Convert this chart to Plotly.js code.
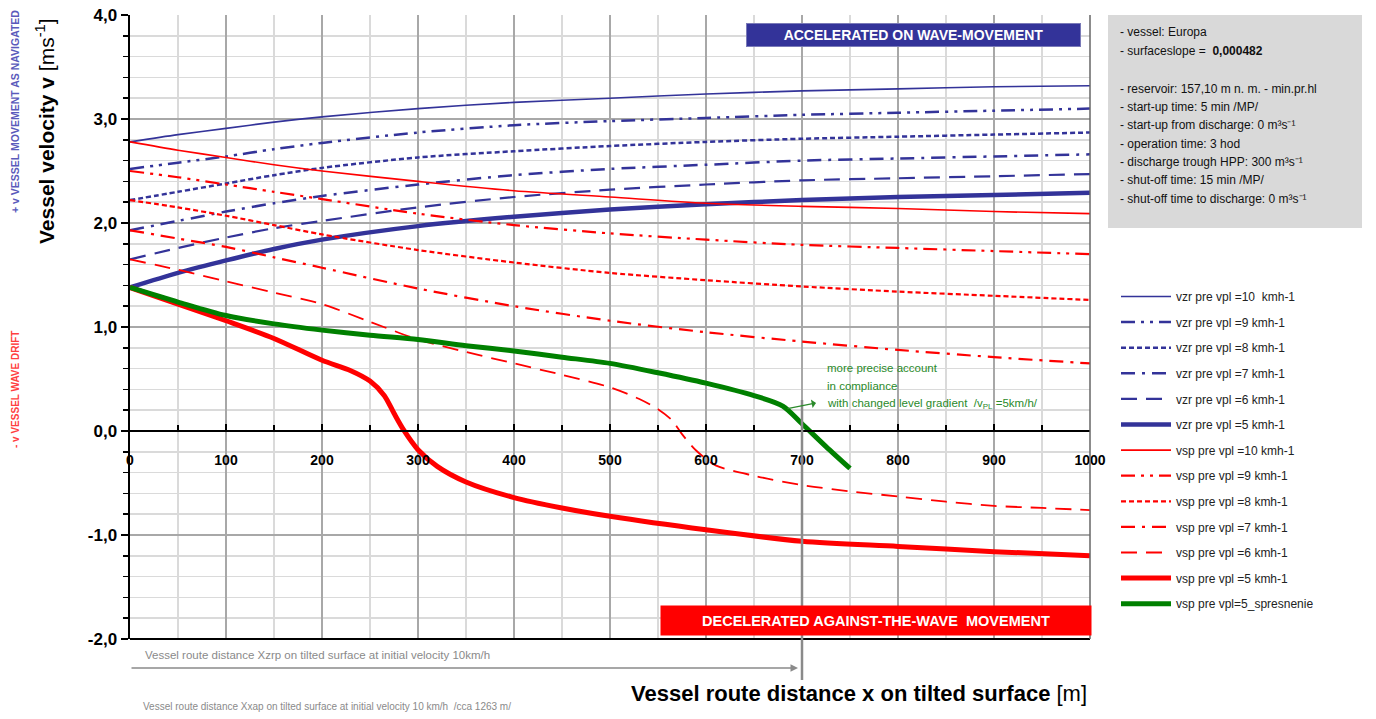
<!DOCTYPE html>
<html>
<head>
<meta charset="utf-8">
<script src="https://cdn.plot.ly/plotly-3.0.1.min.js"></script>
<style>html,body{margin:0;padding:0;background:#fff;}#chart{width:1376px;height:719px;}</style>
</head>
<body>
<div id="chart"></div>
<script>
// ---------- DATA ----------
const xDist = [0, 50, 100, 150, 200, 300, 400, 500, 600, 700, 800, 900, 1000];

const vzr10 = [2.78, 2.85, 2.91, 2.97, 3.02, 3.10, 3.16, 3.20, 3.24, 3.27, 3.29, 3.31, 3.32];
const vzr9  = [2.52, 2.58, 2.64, 2.71, 2.77, 2.87, 2.94, 2.98, 3.01, 3.04, 3.06, 3.08, 3.10];
const vzr8  = [2.22, 2.30, 2.38, 2.46, 2.53, 2.63, 2.69, 2.74, 2.78, 2.81, 2.83, 2.85, 2.87];
const vzr7  = [1.93, 2.02, 2.11, 2.19, 2.26, 2.37, 2.46, 2.52, 2.56, 2.60, 2.62, 2.64, 2.66];
const vzr6  = [1.65, 1.76, 1.86, 1.95, 2.02, 2.15, 2.25, 2.32, 2.37, 2.41, 2.43, 2.45, 2.47];
const vzr5  = [1.38, 1.52, 1.64, 1.75, 1.84, 1.97, 2.06, 2.13, 2.18, 2.22, 2.25, 2.27, 2.29];

const vsp10 = [2.78, 2.70, 2.63, 2.56, 2.50, 2.40, 2.31, 2.25, 2.19, 2.16, 2.14, 2.11, 2.09];
const vsp9  = [2.50, 2.44, 2.37, 2.30, 2.23, 2.09, 1.98, 1.90, 1.84, 1.79, 1.76, 1.73, 1.70];
const vsp8  = [2.22, 2.15, 2.07, 1.98, 1.89, 1.74, 1.62, 1.52, 1.45, 1.39, 1.34, 1.30, 1.26];
const vsp7  = [1.93, 1.85, 1.77, 1.67, 1.57, 1.37, 1.20, 1.06, 0.95, 0.86, 0.78, 0.71, 0.65];

const xVsp6 = [0, 50, 100, 150, 200, 250, 300, 350, 400, 450, 500, 530, 550, 565, 575, 590, 610, 650, 700, 750, 800, 850, 900, 950, 1000];
const vsp6  = [1.65, 1.55, 1.44, 1.33, 1.22, 1.05, 0.88, 0.76, 0.65, 0.54, 0.42, 0.31, 0.21, 0.10, -0.03, -0.19, -0.33, -0.43, -0.52, -0.58, -0.63, -0.68, -0.72, -0.74, -0.76];

const xVsp5 = [0, 50, 100, 150, 200, 230, 250, 265, 275, 285, 300, 320, 350, 400, 450, 500, 600, 700, 800, 900, 1000];
const vsp5  = [1.38, 1.22, 1.06, 0.89, 0.68, 0.58, 0.48, 0.34, 0.17, 0.01, -0.18, -0.34, -0.49, -0.64, -0.74, -0.82, -0.95, -1.06, -1.11, -1.16, -1.20];

const xGreen = [0, 50, 100, 150, 200, 250, 300, 350, 400, 450, 500, 550, 600, 650, 680, 700, 725, 750];
const vGreen = [1.38, 1.24, 1.11, 1.03, 0.97, 0.92, 0.88, 0.82, 0.77, 0.71, 0.65, 0.56, 0.46, 0.34, 0.24, 0.07, -0.15, -0.36];

const seriesNames = [
  'vzr pre vpl =10  kmh-1', 'vzr pre vpl =9 kmh-1', 'vzr pre vpl =8 kmh-1',
  'vzr pre vpl =7 kmh-1', 'vzr pre vpl =6 kmh-1', 'vzr pre vpl =5 kmh-1',
  'vsp pre vpl =10 kmh-1', 'vsp pre vpl =9 kmh-1', 'vsp pre vpl =8 kmh-1',
  'vsp pre vpl =7 kmh-1', 'vsp pre vpl =6 kmh-1', 'vsp pre vpl =5 kmh-1',
  'vsp pre vpl=5_spresnenie'
];

const yTickVals = [-2, -1, 0, 1, 2, 3, 4];
const yTickText = ['-2,0', '-1,0', '0,0', '1,0', '2,0', '3,0', '4,0'];
const xTickVals = [0, 100, 200, 300, 400, 500, 600, 700, 800, 900, 1000];

const infoLines = [
  '- vessel: Europa',
  '- surfaceslope =  <b>0,000482</b>',
  '- reservoir: 157,10 m n. m. - min.pr.hl',
  '- start-up time: 5 min /MP/',
  '- start-up from discharge: 0 m³s⁻¹',
  '- operation time: 3 hod',
  '- discharge trough HPP: 300 m³s⁻¹',
  '- shut-off time: 15 min /MP/',
  '- shut-off time to discharge: 0 m³s⁻¹'
];
const greenNote = ['more precise account', 'in compliance', 'with changed level gradient  /v<sub>PL</sub> =5km/h/'];

// ---------- STYLE ----------
const BLUE = '#333399', RED = '#ff0000', GREEN = '#008000';
const DDOT = '14px,6px,3px,6px,3px,6px';
const SDASH = '5px,3px';
const DDASH = '14px,7px,3px,7px';
const LDASH = '16px,9px';
const NARROW = '"Liberation Sans Narrow", "Arial Narrow", "Liberation Sans", Arial, sans-serif';
const SANS = '"Liberation Sans", Arial, sans-serif';

function tr(x, y, name, color, width, dash, idx) {
  return {
    type: 'scatter', mode: 'lines', x: x, y: y, name: name,
    legendgroup: 'g' + idx,
    line: {color: color, width: width, dash: dash, shape: 'spline', smoothing: 0.8},
    hoverinfo: 'skip'
  };
}

const data = [
  tr(xDist, vzr10, seriesNames[0], BLUE, 1.6, 'solid', 0),
  tr(xDist, vzr9, seriesNames[1], BLUE, 2.5, DDOT, 1),
  tr(xDist, vzr8, seriesNames[2], BLUE, 2.5, SDASH, 2),
  tr(xDist, vzr7, seriesNames[3], BLUE, 2.5, DDASH, 3),
  tr(xDist, vzr6, seriesNames[4], BLUE, 2.2, LDASH, 4),
  tr(xDist, vzr5, seriesNames[5], BLUE, 4.5, 'solid', 5),
  tr(xDist, vsp10, seriesNames[6], RED, 1.6, 'solid', 6),
  tr(xDist, vsp9, seriesNames[7], RED, 2.2, DDOT, 7),
  tr(xDist, vsp8, seriesNames[8], RED, 2.2, SDASH, 8),
  tr(xDist, vsp7, seriesNames[9], RED, 2.2, DDASH, 9),
  tr(xVsp6, vsp6, seriesNames[10], RED, 1.8, LDASH, 10),
  tr(xVsp5, vsp5, seriesNames[11], RED, 5, 'solid', 11),
  tr(xGreen, vGreen, seriesNames[12], GREEN, 5, 'solid', 12)
];

// pixel -> paper helpers for layout decorations (plot area 130..1090 x 15..639)
const L = 130, R = 1090, T = 15, B = 639;
const px = v => (v - L) / (R - L);
const py = v => (B - v) / (B - T);

const annotations = [];
// banners
annotations.push({xref: 'paper', yref: 'paper', x: px(913), y: py(35), xanchor: 'center', yanchor: 'middle',
  text: '<b>ACCELERATED ON WAVE-MOVEMENT</b>',
  showarrow: false, bgcolor: BLUE, width: 331, height: 20, bordercolor: '#7a7ab8', borderwidth: 1, borderpad: 1,
  font: {family: SANS, size: 14, color: 'white'}});
annotations.push({xref: 'paper', yref: 'paper', x: px(876), y: py(620), xanchor: 'center', yanchor: 'middle',
  text: '<b>DECELERATED AGAINST-THE-WAVE  MOVEMENT</b>',
  showarrow: false, bgcolor: RED, width: 428, height: 27, borderpad: 1,
  font: {family: SANS, size: 14.5, color: 'white'}});
// info box lines
const infoY = [32, 51, 89, 107, 125, 144, 162, 180, 199];
infoLines.forEach((t, i) => annotations.push({xref: 'paper', yref: 'paper', x: px(1118), y: py(infoY[i]),
  xanchor: 'left', yanchor: 'middle', text: t, showarrow: false, align: 'left',
  font: {family: NARROW, size: 12, color: '#111'}}));
// green note
const gY = [368, 386, 404];
greenNote.forEach((t, i) => annotations.push({xref: 'paper', yref: 'paper', x: px(825), y: py(gY[i]),
  xanchor: 'left', yanchor: 'middle', text: t, showarrow: false, align: 'left',
  font: {family: NARROW, size: 11.5, color: '#2a8a2a'}}));
// green arrow
annotations.push({xref: 'paper', yref: 'paper', x: px(816), y: py(403), ax: -30, ay: 6, text: '',
  showarrow: true, arrowhead: 1, arrowsize: 1.2, arrowwidth: 1.2, arrowcolor: '#2a8a2a'});
// axis titles
annotations.push({xref: 'paper', yref: 'paper', x: px(45), y: py(131), xanchor: 'center', yanchor: 'middle', textangle: -90,
  text: '<b>Vessel velocity v</b> [ms<sup>-1</sup>]', showarrow: false,
  font: {family: NARROW, size: 21, color: 'black'}});
annotations.push({xref: 'paper', yref: 'paper', x: px(859), y: py(693), xanchor: 'center', yanchor: 'middle',
  text: '<b>Vessel route distance x on tilted surface</b> [m]', showarrow: false,
  font: {family: NARROW, size: 22, color: 'black'}});
annotations.push({xref: 'paper', yref: 'paper', x: px(15), y: py(112), xanchor: 'center', yanchor: 'middle', textangle: -90,
  text: '<b>+ v VESSEL MOVEMENT AS NAVIGATED</b>', showarrow: false,
  font: {family: NARROW, size: 10.5, color: '#5a5abb'}});
annotations.push({xref: 'paper', yref: 'paper', x: px(15), y: py(390), xanchor: 'center', yanchor: 'middle', textangle: -90,
  text: '<b>- v VESSEL WAVE DRIFT</b>', showarrow: false,
  font: {family: NARROW, size: 10, color: '#ff4040'}});
// gray route notes
annotations.push({xref: 'paper', yref: 'paper', x: px(143), y: py(655), xanchor: 'left', yanchor: 'middle',
  text: 'Vessel route distance Xzrp on tilted surface at initial velocity 10km/h', showarrow: false,
  font: {family: NARROW, size: 11.5, color: '#8a8a8a'}});
annotations.push({xref: 'paper', yref: 'paper', x: px(141), y: py(706), xanchor: 'left', yanchor: 'middle',
  text: 'Vessel route distance Xxap on tilted surface at initial velocity 10 km/h  /cca 1263 m/', showarrow: false,
  font: {family: NARROW, size: 10, color: '#8a8a8a'}});
annotations.push({xref: 'paper', yref: 'paper', x: px(798), y: py(668), ax: -668, ay: 0, text: '',
  showarrow: true, arrowhead: 2, arrowsize: 1, arrowwidth: 1.5, arrowcolor: '#8a8a8a'});

const shapes = [
  {type: 'rect', xref: 'paper', yref: 'paper', x0: px(1108), x1: px(1362), y0: py(15), y1: py(228),
   fillcolor: '#d9d9d9', line: {width: 0}, layer: 'below'},
  {type: 'line', xref: 'paper', yref: 'paper', x0: 0, x1: 1, y0: 0, y1: 0, line: {color: 'black', width: 2}},
  {type: 'line', xref: 'paper', yref: 'paper', x0: 1, x1: 1, y0: 0, y1: 1, line: {color: '#666', width: 1.5}},
  {type: 'line', xref: 'x', yref: 'paper', x0: 700, x1: 700, y0: py(680), y1: py(400), line: {color: '#8a8a8a', width: 2.5}}
];

const layout = {
  width: 1376, height: 719,
  margin: {l: L, r: 1376 - R, t: T, b: 719 - B},
  paper_bgcolor: 'white', plot_bgcolor: 'white',
  separators: ',.',
  showlegend: true,
  legend: {x: px(1116), y: py(282), xanchor: 'left', yanchor: 'top', bgcolor: 'rgba(0,0,0,0)',
    tracegroupgap: 6.6, itemwidth: 50, font: {family: NARROW, size: 12, color: '#222'}},
  xaxis: {
    range: [0, 1000], tickvals: xTickVals, anchor: 'free', position: 1 / 3,
    showline: true, linecolor: 'black', linewidth: 2, zeroline: false,
    ticks: 'inside', ticklen: 6, tickwidth: 1.5, tickcolor: 'black', ticklabelstandoff: 16,
    showgrid: true, gridcolor: '#a8a8a8', gridwidth: 1.5,
    minor: {dtick: 50, tick0: 0, showgrid: true, gridcolor: '#dadada', gridwidth: 1.5, ticks: 'inside', ticklen: 5, tickcolor: 'black'},
    tickfont: {family: SANS, size: 14, weight: 'bold', color: 'black'}
  },
  yaxis: {
    range: [-2, 4], tickvals: yTickVals, ticktext: yTickText,
    showline: true, linecolor: 'black', linewidth: 2.5, zeroline: false,
    ticks: 'outside', ticklen: 7, tickwidth: 1.5, tickcolor: 'black',
    showgrid: true, gridcolor: '#a8a8a8', gridwidth: 1.5,
    minor: {dtick: 0.2, tick0: 0, showgrid: true, gridcolor: '#dadada', gridwidth: 1.5, ticks: 'outside', ticklen: 5, tickcolor: 'black'},
    tickfont: {family: SANS, size: 17, weight: 'bold', color: 'black'}
  },
  annotations: annotations,
  shapes: shapes
};

Plotly.newPlot('chart', data, layout, {displayModeBar: false, staticPlot: true});
</script>
</body>
</html>
